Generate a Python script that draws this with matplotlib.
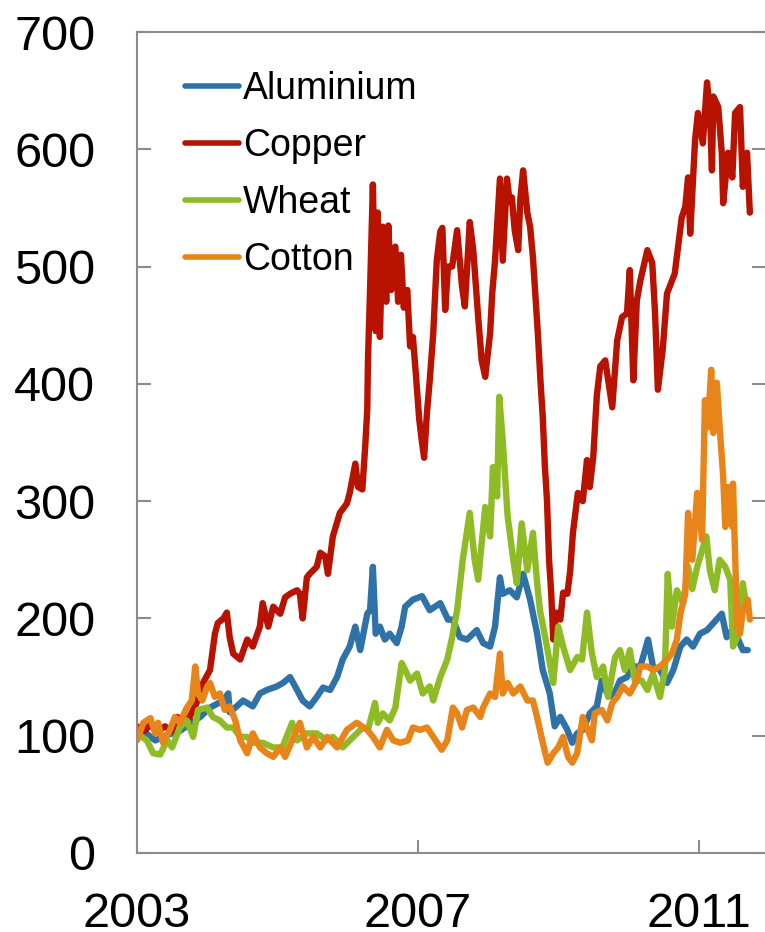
import matplotlib
matplotlib.use("Agg")
import matplotlib.pyplot as plt

plt.rcParams['font.family'] = ['Liberation Sans', 'DejaVu Sans']

# ---------------- data (fractional years, index values) ----------------
copper_t = [2003.00, 2003.11, 2003.19, 2003.28, 2003.40, 2003.50, 2003.57, 2003.68, 2003.75, 2003.85,
            2003.94, 2004.04, 2004.11, 2004.15, 2004.23, 2004.28, 2004.32, 2004.37, 2004.47, 2004.57,
            2004.65, 2004.75, 2004.79, 2004.87, 2004.94, 2005.04, 2005.11, 2005.18, 2005.28, 2005.32,
            2005.36, 2005.42, 2005.46, 2005.56, 2005.61, 2005.68, 2005.72, 2005.79, 2005.89, 2005.99,
            2006.03, 2006.11, 2006.15, 2006.21, 2006.25, 2006.28, 2006.29, 2006.32, 2006.36, 2006.40,
            2006.43, 2006.46, 2006.50, 2006.55, 2006.58, 2006.62, 2006.68, 2006.72, 2006.76, 2006.80,
            2006.85, 2006.89, 2006.93, 2006.97, 2007.02, 2007.06, 2007.09, 2007.13, 2007.17, 2007.22,
            2007.27, 2007.32, 2007.35, 2007.39, 2007.43, 2007.49, 2007.56, 2007.63, 2007.67, 2007.74,
            2007.79, 2007.86, 2007.91, 2007.96, 2008.03, 2008.06, 2008.10, 2008.14, 2008.17, 2008.21,
            2008.27, 2008.31, 2008.34, 2008.38, 2008.43, 2008.46, 2008.50, 2008.56, 2008.60, 2008.64,
            2008.68, 2008.71, 2008.75, 2008.78, 2008.81, 2008.84, 2008.87, 2008.90, 2008.93, 2008.97,
            2009.03, 2009.07, 2009.13, 2009.17, 2009.21, 2009.28, 2009.35, 2009.41, 2009.45, 2009.50,
            2009.55, 2009.60, 2009.67, 2009.77, 2009.84, 2009.91, 2009.98, 2010.02, 2010.07, 2010.12,
            2010.17, 2010.27, 2010.34, 2010.38, 2010.42, 2010.49, 2010.55, 2010.66, 2010.76, 2010.81,
            2010.85, 2010.88, 2010.95, 2010.99, 2011.06, 2011.12, 2011.16, 2011.19, 2011.21, 2011.28,
            2011.33, 2011.35, 2011.42, 2011.48, 2011.52, 2011.59, 2011.63, 2011.69, 2011.73]
copper_v = [108, 104, 110, 103, 108, 104, 116, 112, 116, 128,
            145, 156, 187, 196, 200, 205, 184, 170, 165, 182,
            176, 193, 213, 193, 210, 204, 218, 221, 224, 221,
            200, 235, 238, 244, 256, 253, 238, 270, 290, 298,
            307, 332, 312, 310, 346, 378, 420, 480, 570, 445,
            546, 440, 534, 470, 535, 480, 517, 470, 510, 465,
            480, 432, 440, 410, 370, 350, 337, 375, 403, 443,
            505, 530, 533, 463, 500, 500, 531, 483, 466, 538,
            514, 457, 420, 406, 443, 477, 505, 545, 575, 505,
            575, 555, 559, 531, 514, 557, 582, 546, 534, 508,
            470, 443, 400, 372, 330, 301, 250, 222, 182, 205,
            199, 222, 221, 240, 273, 307, 300, 335, 312, 338,
            390, 415, 420, 380, 437, 457, 460, 497, 403, 471,
            488, 514, 503, 460, 395, 430, 477, 494, 542, 551,
            576, 528, 608, 631, 605, 657, 633, 582, 645, 636,
            597, 554, 597, 576, 631, 636, 568, 597, 546]

alu_t = [2003.00, 2003.11, 2003.26, 2003.40, 2003.61, 2003.75, 2003.90, 2004.04, 2004.23, 2004.30,
         2004.32, 2004.42, 2004.51, 2004.65, 2004.75, 2004.85, 2004.99, 2005.08, 2005.18, 2005.28,
         2005.36, 2005.46, 2005.56, 2005.65, 2005.75, 2005.85, 2005.93, 2006.03, 2006.11, 2006.18,
         2006.28, 2006.32, 2006.36, 2006.40, 2006.46, 2006.53, 2006.60, 2006.70, 2006.77, 2006.82,
         2006.93, 2007.06, 2007.17, 2007.32, 2007.43, 2007.50, 2007.60, 2007.70, 2007.84, 2007.93,
         2008.03, 2008.10, 2008.17, 2008.21, 2008.31, 2008.41, 2008.50, 2008.60, 2008.70, 2008.78,
         2008.88, 2008.95, 2009.03, 2009.13, 2009.20, 2009.27, 2009.35, 2009.45, 2009.55, 2009.62,
         2009.70, 2009.78, 2009.88, 2009.98, 2010.07, 2010.17, 2010.28, 2010.35, 2010.45, 2010.55,
         2010.64, 2010.74, 2010.83, 2010.92, 2011.02, 2011.12, 2011.21, 2011.33, 2011.40, 2011.48,
         2011.55, 2011.63, 2011.70]
alu_v = [99, 103, 96, 100, 104, 110, 116, 124, 130, 136,
         120, 125, 130, 125, 136, 139, 142, 145, 150, 139,
         130, 125, 133, 141, 139, 150, 165, 176, 193, 173,
         204, 207, 244, 187, 193, 182, 187, 179, 193, 210,
         216, 219, 207, 213, 199, 199, 184, 182, 190, 179,
         176, 193, 235, 221, 224, 218, 238, 216, 187, 156,
         136, 108, 116, 105, 94, 102, 105, 119, 125, 147,
         136, 133, 147, 150, 159, 159, 182, 159, 156, 145,
         156, 176, 182, 176, 187, 190, 196, 204, 184, 190,
         184, 173, 173]

wheat_t = [2003.00, 2003.14, 2003.23, 2003.33, 2003.43, 2003.50, 2003.61, 2003.71, 2003.80, 2003.87,
           2004.00, 2004.08, 2004.18, 2004.28, 2004.37, 2004.47, 2004.57, 2004.65, 2004.79, 2004.94,
           2005.07, 2005.21, 2005.28, 2005.42, 2005.56, 2005.71, 2005.79, 2005.93, 2006.08, 2006.22,
           2006.29, 2006.39, 2006.43, 2006.50, 2006.60, 2006.68, 2006.77, 2006.82, 2006.89, 2006.99,
           2007.07, 2007.17, 2007.22, 2007.32, 2007.42, 2007.49, 2007.56, 2007.64, 2007.74, 2007.81,
           2007.86, 2007.96, 2008.03, 2008.07, 2008.13, 2008.16, 2008.21, 2008.24, 2008.28, 2008.36,
           2008.41, 2008.48, 2008.56, 2008.64, 2008.70, 2008.74, 2008.84, 2008.93, 2009.00, 2009.07,
           2009.17, 2009.27, 2009.34, 2009.41, 2009.48, 2009.55, 2009.64, 2009.71, 2009.81, 2009.88,
           2009.95, 2010.02, 2010.09, 2010.19, 2010.27, 2010.35, 2010.45, 2010.52, 2010.56, 2010.62,
           2010.69, 2010.78, 2010.85, 2010.91, 2010.98, 2011.05, 2011.11, 2011.16, 2011.23, 2011.30,
           2011.38, 2011.45, 2011.49, 2011.55, 2011.63, 2011.69]
wheat_v = [102, 96, 85, 84, 96, 90, 107, 113, 99, 122,
           124, 116, 113, 107, 107, 99, 99, 94, 94, 90,
           90, 111, 96, 102, 102, 96, 99, 90, 99, 107,
           105, 128, 111, 119, 113, 124, 162, 156, 147, 153,
           136, 142, 130, 150, 165, 184, 207, 250, 290, 250,
           233, 295, 270, 329, 304, 389, 352, 324, 287, 250,
           230, 281, 241, 273, 230, 207, 176, 145, 193, 176,
           156, 167, 165, 205, 170, 150, 159, 133, 167, 173,
           156, 173, 147, 147, 139, 153, 133, 156, 238, 193,
           224, 213, 244, 225, 244, 258, 270, 241, 224, 250,
           244, 233, 176, 184, 230, 207]

cotton_t = [2003.00, 2003.09, 2003.19, 2003.26, 2003.30, 2003.37, 2003.47, 2003.54, 2003.61, 2003.71,
            2003.78, 2003.83, 2003.87, 2003.93, 2004.00, 2004.04, 2004.11, 2004.18, 2004.25, 2004.32,
            2004.40, 2004.47, 2004.57, 2004.65, 2004.75, 2004.85, 2004.94, 2005.04, 2005.11, 2005.21,
            2005.32, 2005.42, 2005.51, 2005.61, 2005.71, 2005.85, 2005.99, 2006.13, 2006.28, 2006.36,
            2006.46, 2006.56, 2006.65, 2006.75, 2006.86, 2006.93, 2007.03, 2007.13, 2007.22, 2007.34,
            2007.42, 2007.50, 2007.56, 2007.63, 2007.70, 2007.79, 2007.89, 2007.93, 2008.03, 2008.10,
            2008.17, 2008.21, 2008.28, 2008.36, 2008.46, 2008.56, 2008.64, 2008.71, 2008.78, 2008.85,
            2008.93, 2009.00, 2009.07, 2009.14, 2009.20, 2009.27, 2009.35, 2009.42, 2009.48, 2009.52,
            2009.62, 2009.70, 2009.77, 2009.84, 2009.92, 2010.02, 2010.12, 2010.17, 2010.27, 2010.35,
            2010.45, 2010.55, 2010.62, 2010.69, 2010.74, 2010.81, 2010.85, 2010.91, 2010.98, 2011.05,
            2011.09, 2011.13, 2011.18, 2011.21, 2011.26, 2011.30, 2011.35, 2011.38, 2011.42, 2011.48,
            2011.49, 2011.55, 2011.59, 2011.63, 2011.70, 2011.73]
cotton_v = [96, 111, 115, 102, 111, 94, 105, 116, 111, 124,
            130, 159, 136, 130, 142, 145, 133, 136, 122, 125,
            113, 96, 85, 102, 90, 85, 82, 90, 82, 96,
            111, 90, 99, 90, 99, 90, 105, 111, 105, 99,
            90, 105, 96, 94, 96, 107, 105, 107, 99, 88,
            96, 124, 119, 107, 122, 124, 116, 124, 136, 133,
            170, 136, 145, 136, 142, 130, 130, 113, 94, 77,
            85, 90, 99, 82, 77, 85, 116, 105, 96, 119,
            122, 113, 128, 133, 142, 136, 147, 159, 159, 156,
            159, 165, 170, 182, 204, 221, 290, 250, 307, 267,
            386, 363, 412, 358, 401, 363, 321, 278, 312, 278,
            315, 193, 187, 207, 216, 199]

series_names = ["Aluminium", "Copper", "Wheat", "Cotton"]
series_colors = ["#2E72A8", "#B81200", "#8FBC26", "#E8851A"]

x_ticks = [2003, 2007, 2011]
y_ticks = [0, 100, 200, 300, 400, 500, 600, 700]

# ---------------- figure ----------------
W, H = 765, 932
fig = plt.figure(figsize=(W / 100, H / 100), dpi=100)
ax = fig.add_axes([137 / W, (H - 853) / H, (766 - 137) / W, (853 - 32) / H])

data = [(alu_t, alu_v), (copper_t, copper_v), (wheat_t, wheat_v), (cotton_t, cotton_v)]
for (t, v), name, col in zip(data, series_names, series_colors):
    ax.plot(t, v, color=col, lw=4.6, label=name,
            solid_joinstyle='round', solid_capstyle='round')

ax.set_xlim(2003, 2003 + (766 - 137) / 70.2)
ax.set_ylim(0, 700)
ax.set_xticks(x_ticks)
ax.set_xticklabels([str(x) for x in x_ticks])
ax.set_yticks(y_ticks)
ax.set_yticklabels([str(y) for y in y_ticks])

gray = "#8C8C8C"
for side in ["left", "bottom", "top"]:
    ax.spines[side].set_color(gray)
    ax.spines[side].set_linewidth(1.5)
ax.spines["right"].set_visible(False)

ax.tick_params(axis='y', which='both', direction='in', length=10, width=1.5, color=gray,
               labelsize=35, pad=30, left=True, right=True)
ax.tick_params(axis='x', which='both', direction='in', length=9.5, width=1.5, color=gray,
               labelsize=35, pad=28)

leg = ax.legend(loc='upper left', bbox_to_anchor=((185 - 137) / (766 - 137), (853 - 71) / (853 - 32)),
                frameon=False, fontsize=27, handlelength=1.45, handletextpad=0.1,
                labelspacing=0.56, borderpad=0, borderaxespad=0)
for line in leg.get_lines():
    line.set_linewidth(4.0)

fig.savefig("out.png", dpi=100)
